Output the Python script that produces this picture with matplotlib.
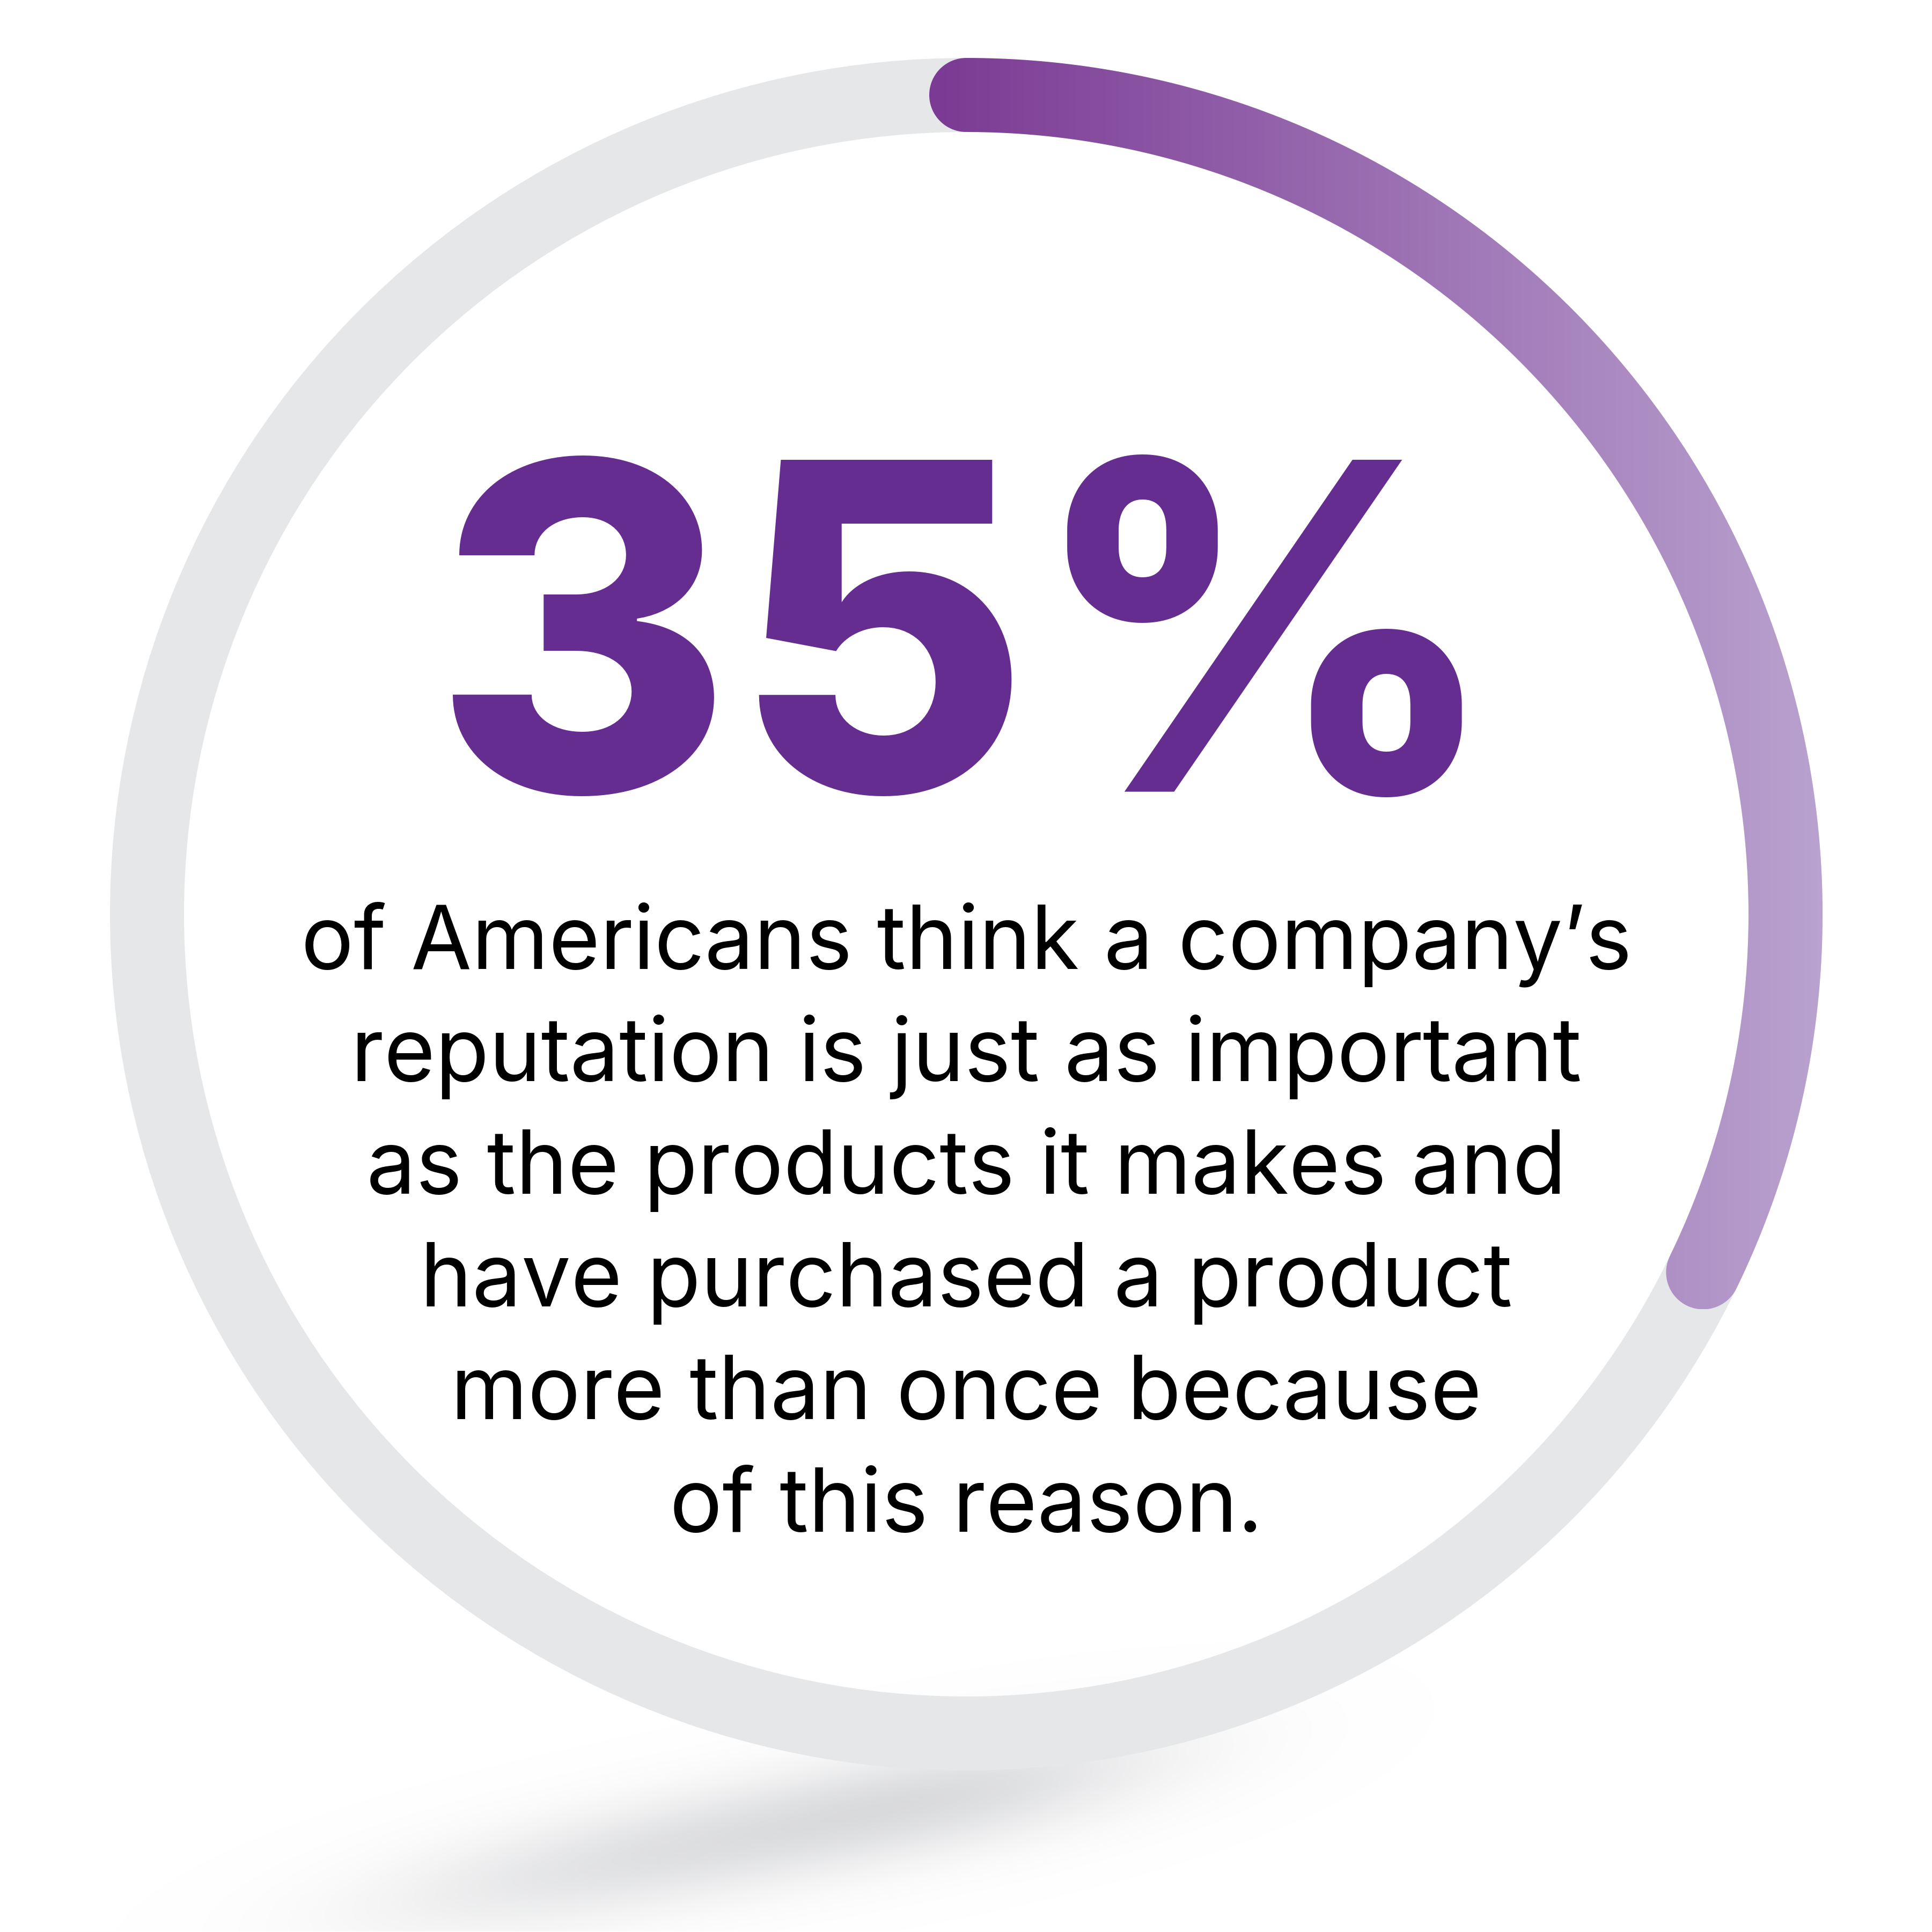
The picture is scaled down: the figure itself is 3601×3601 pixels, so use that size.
import numpy as np
import matplotlib
matplotlib.use("Agg")
import matplotlib.pyplot as plt
from matplotlib.patches import Wedge, PathPatch
from matplotlib.path import Path
from matplotlib.colors import LinearSegmentedColormap, to_rgb

# data
headline = "35%"
share_shown = 0.322          # fraction of the ring covered by the purple arc
body_lines = [
    "of Americans think a company’s",
    "reputation is just as important",
    "as the products it makes and",
    "have purchased a product",
    "more than once because",
    "of this reason.",
]

W = H = 3601
cx, cy = 1801, 1704
r_out, ring_w = 1596, 138
r_mid = r_out - ring_w / 2

purple = "#652D90"
grad_start, grad_end = "#7B3A94", "#B9A2CF"
ring_grey = "#E6E7E8"

fig = plt.figure(figsize=(36.01, 36.01), dpi=100)
ax = fig.add_axes([0, 0, 1, 1])
ax.set_xlim(0, W)
ax.set_ylim(H, 0)
ax.set_aspect("equal")
ax.axis("off")

# soft shadow under the ring
xs = np.arange(200, 2800)
ys = np.arange(3000, 3601)
X, Y = np.meshgrid(xs, ys)
ang = np.deg2rad(-11)
sx, sy = 1400, 3420
u = (X - sx) * np.cos(ang) + (Y - sy) * np.sin(ang)
v = -(X - sx) * np.sin(ang) + (Y - sy) * np.cos(ang)
field = np.exp(-(np.abs(u) / 740) ** 3) * np.exp(-(v / 100) ** 2)
field *= np.clip(0.55 + 0.45 * (u + 800) / 1300, 0.4, 1.0)
shadow = np.zeros(field.shape + (4,))
shadow[..., :3] = to_rgb("#CDCED1")
shadow[..., 3] = np.clip(field * 0.85, 0, 1)
ax.imshow(shadow, extent=(xs[0], xs[-1], ys[-1], ys[0]), zorder=0, interpolation="bilinear")

# grey track
ax.add_patch(Wedge((cx, cy), r_out, 0, 360, width=ring_w, facecolor=ring_grey, edgecolor="none", zorder=1))

# purple arc with round caps (screen coords, y down)
a0 = np.deg2rad(90)
a1 = np.deg2rad(90 - 360 * share_shown)
half = ring_w / 2
t = np.linspace(a0, a1, 400)
outer = np.c_[cx + r_out * np.cos(t), cy - r_out * np.sin(t)]
inner = np.c_[cx + (r_out - ring_w) * np.cos(t[::-1]), cy - (r_out - ring_w) * np.sin(t[::-1])]
ec = np.array([cx + r_mid * np.cos(a1), cy - r_mid * np.sin(a1)])
tc = np.linspace(a1, a1 - np.pi, 60)
cap_end = np.c_[ec[0] + half * np.cos(tc), ec[1] - half * np.sin(tc)]
sc = np.array([cx + r_mid * np.cos(a0), cy - r_mid * np.sin(a0)])
tc2 = np.linspace(a0 + np.pi, a0, 60)
cap_start = np.c_[sc[0] + half * np.cos(tc2), sc[1] - half * np.sin(tc2)]
pts = np.vstack([outer, cap_end, inner, cap_start])
arc_patch = PathPatch(Path(pts, closed=False), facecolor="none", edgecolor="none", zorder=2)
ax.add_patch(arc_patch)

x_lo, x_hi = pts[:, 0].min(), pts[:, 0].max()
y_lo, y_hi = pts[:, 1].min(), pts[:, 1].max()
cmap = LinearSegmentedColormap.from_list("arc", [grad_start, grad_end])
grad = np.linspace(0, 1, 512)[None, :]
im = ax.imshow(grad, cmap=cmap, extent=(x_lo, x_hi, y_hi, y_lo), aspect="auto",
               zorder=2, interpolation="bilinear")
im.set_clip_path(arc_patch)

# headline
ax.text(cx, 1476, headline, ha="center", va="baseline", color=purple,
        fontsize=612, fontweight=800, family="Inter", zorder=3)

# body
base0, step = 1805, 210
for i, line in enumerate(body_lines):
    ax.text(cx, base0 + i * step, line, ha="center", va="baseline", color="black",
            fontsize=118, family="Inter", zorder=3)

fig.savefig("out.png", dpi=100, facecolor="white")
